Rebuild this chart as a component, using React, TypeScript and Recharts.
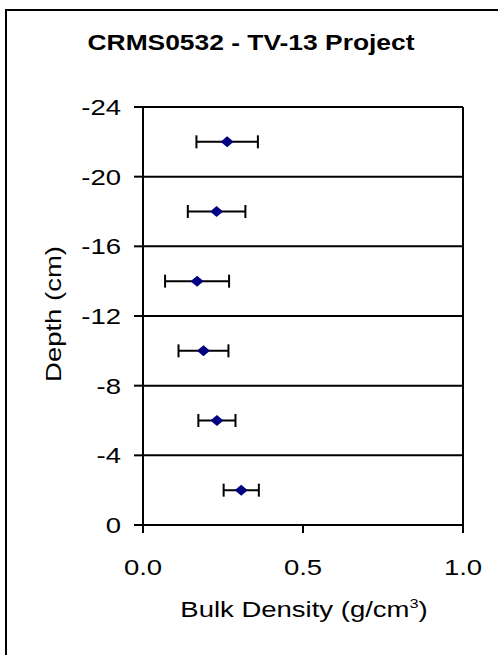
import React from 'react';
import { ScatterChart, Scatter, XAxis, YAxis, CartesianGrid, ErrorBar, ReferenceLine } from 'recharts';

// depth of each core section (cm, negative = below surface)
const depths = [-22, -18, -14, -10, -6, -2];
const bulkDensity = [0.263, 0.23, 0.169, 0.189, 0.231, 0.307];
const densityError = [0.096, 0.09, 0.1, 0.078, 0.058, 0.055];

const depthTicks = [-24, -20, -16, -12, -8, -4, 0];
const densityTicks = [0, 0.5, 1];

const data = depths.map((d, i) => ({ y: d, x: bulkDensity[i], err: densityError[i] }));

const W = 498;
const H = 655;
// the original text is drawn noticeably wider than plain Arial
const STRETCH = 1.25;
const FONT = '"Liberation Sans", Arial, sans-serif';

const YTick = (props: any) => {
    const { x, y, payload } = props;
    return (
        <text transform={`translate(${x},${y + 8}) scale(${STRETCH},1)`} textAnchor="end"
            fontFamily={FONT} fontSize={22} fill="#000">
            {payload.value}
        </text>
    );
};

const XTick = (props: any) => {
    const { x, y, payload } = props;
    return (
        <text transform={`translate(${x},${y + 40}) scale(${STRETCH},1)`} textAnchor="middle"
            fontFamily={FONT} fontSize={22} fill="#000">
            {Number(payload.value).toFixed(1)}
        </text>
    );
};

const Diamond = (props: any) => {
    const { cx, cy } = props;
    return (
        <polygon
            points={`${cx - 6.5},${cy} ${cx},${cy - 5.5} ${cx + 6.5},${cy} ${cx},${cy + 5.5}`}
            fill="#000080"
        />
    );
};

export default function App() {
    return (
        <div style={{ position: 'absolute', left: 0, top: 0, width: W, height: H, background: '#fff' }}>
            <ScatterChart width={W} height={H} margin={{ top: 107, right: 35, bottom: 100, left: 83 }}>
                <CartesianGrid vertical={false} stroke="#000" strokeWidth={2} />
                <XAxis
                    type="number"
                    dataKey="x"
                    domain={[0, 1]}
                    ticks={densityTicks}
                    interval={0}
                    height={30}
                    tickSize={8}
                    tickMargin={2}
                    stroke="#000"
                    strokeWidth={2}
                    tick={<XTick />}
                />
                <YAxis
                    type="number"
                    dataKey="y"
                    domain={[-24, 0]}
                    ticks={depthTicks}
                    interval={0}
                    reversed
                    width={60}
                    tickSize={9}
                    tickMargin={13}
                    stroke="#000"
                    strokeWidth={2}
                    tick={<YTick />}
                />
                <ReferenceLine x={1} stroke="#000" strokeWidth={2} />
                <ReferenceLine y={-24} stroke="#000" strokeWidth={2} />
                <Scatter data={data} shape={<Diamond />} isAnimationActive={false}>
                    <ErrorBar dataKey="err" direction="x" width={6.5} stroke="#000" strokeWidth={2} isAnimationActive={false} />
                </Scatter>
            </ScatterChart>
            <svg width={W} height={H} style={{ position: 'absolute', left: 0, top: 0, pointerEvents: 'none' }}>
                <line x1={6} y1={9} x2={6} y2={H} stroke="#000" strokeWidth={2} />
                <line x1={5} y1={10} x2={W} y2={10} stroke="#000" strokeWidth={2} />
                <text transform={`translate(251,50) scale(1.2,1)`} textAnchor="middle"
                    fontFamily={FONT} fontSize={22} fontWeight="bold" fill="#000">
                    CRMS0532 - TV-13 Project
                </text>
                <text transform={`translate(61,314) rotate(-90) scale(${STRETCH},1)`} textAnchor="middle"
                    fontFamily={FONT} fontSize={22} fill="#000">
                    Depth (cm)
                </text>
                <text transform={`translate(304,617) scale(${STRETCH},1)`} textAnchor="middle"
                    fontFamily={FONT} fontSize={22} fill="#000">
                    Bulk Density (g/cm<tspan fontSize={13} dy={-9}>3</tspan><tspan dy={9}>)</tspan>
                </text>
            </svg>
        </div>
    );
}
